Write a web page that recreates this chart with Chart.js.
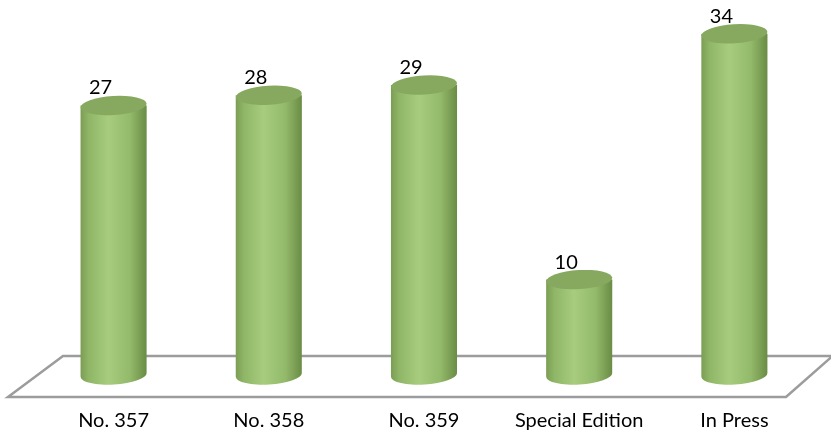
<!DOCTYPE html>
<html>
<head>
<meta charset="utf-8">
<script src="https://cdn.jsdelivr.net/npm/chart.js@4"></script>
<style>
  html, body { margin: 0; padding: 0; background: #ffffff; }
  #wrap { width: 831px; height: 436px; }
</style>
</head>
<body>
<div id="wrap"><canvas id="myChart"></canvas></div>
<script>
// Issues per edition
const categories = ["No. 357", "No. 358", "No. 359", "Special Edition", "In Press"];
const values = [27, 28, 29, 10, 34];

// floor plane (the gray parallelogram under the bars)
const floorPlugin = {
  id: "floor",
  beforeDatasetsDraw(chart) {
    const c = chart.ctx;
    c.save();
    c.strokeStyle = "#9c9c9c";
    c.lineWidth = 2.5;
    c.beginPath();
    c.moveTo(840, 356);
    c.lineTo(63, 356);
    c.lineTo(8, 397);
    c.lineTo(786, 397);
    c.lineTo(836, 353);
    c.stroke();
    c.restore();
  },
};

// draw each bar as a cylinder
const cylinderPlugin = {
  id: "cylinder",
  afterDatasetsDraw(chart) {
    const c = chart.ctx;
    const meta = chart.getDatasetMeta(0);
    const tilt = -0.06;
    meta.data.forEach((bar, i) => {
      const x = bar.x;
      const top = bar.y;
      const bottom = bar.base - 7;
      const rx = bar.width / 2;
      const ry = 9.5;

      c.save();
      const grad = c.createLinearGradient(x - rx, 0, x + rx, 0);
      grad.addColorStop(0, "#7b9d54");
      grad.addColorStop(0.12, "#8fb566");
      grad.addColorStop(0.42, "#a7cc7e");
      grad.addColorStop(0.75, "#93b96a");
      grad.addColorStop(1, "#6a8c45");
      c.fillStyle = grad;
      c.beginPath();
      c.moveTo(x - rx, top);
      c.lineTo(x - rx, bottom);
      c.ellipse(x, bottom, rx, ry, tilt, Math.PI, 0, true);
      c.lineTo(x + rx, top);
      c.closePath();
      c.fill();

      // top face
      c.fillStyle = "#86a95f";
      c.beginPath();
      c.ellipse(x, top, rx, ry, tilt, 0, Math.PI * 2);
      c.fill();

      // value label
      c.fillStyle = "#000000";
      c.font = "20px Lato, 'Open Sans', sans-serif";
      c.textAlign = "center";
      c.textBaseline = "alphabetic";
      c.fillText(String(values[i]), x - 13, top - 11);
      c.restore();
    });
  },
};

const ctx = document.getElementById("myChart");

new Chart(ctx, {
  type: "bar",
  data: {
    labels: categories,
    datasets: [
      {
        data: values,
        backgroundColor: "rgba(0,0,0,0)",
        borderWidth: 0,
        categoryPercentage: 1,
        barPercentage: 0.426,
      },
    ],
  },
  options: {
    responsive: true,
    maintainAspectRatio: false,
    animation: false,
    layout: {
      padding: { left: 36, right: 19, top: 0, bottom: 0 },
    },
    plugins: {
      legend: { display: false },
      tooltip: { enabled: false },
    },
    scales: {
      x: {
        grid: { display: false },
        border: { display: false },
        ticks: {
          color: "#000000",
          padding: 19,
          font: { family: "Lato, 'Open Sans', sans-serif", size: 20 },
          maxRotation: 0,
        },
        afterFit(scale) {
          scale.height = 54;
        },
      },
      y: {
        display: false,
        min: 0,
        max: 37.3,
      },
    },
  },
  plugins: [floorPlugin, cylinderPlugin],
});
</script>
</body>
</html>
